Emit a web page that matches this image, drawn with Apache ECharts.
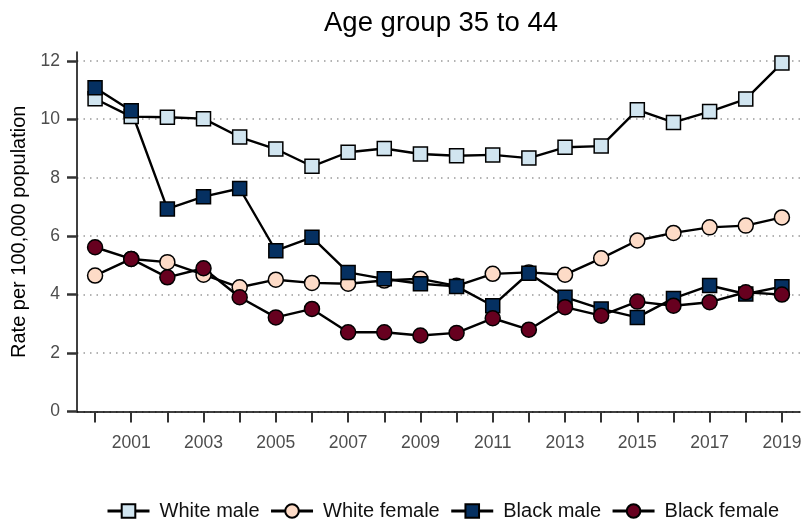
<!DOCTYPE html>
<html>
<head>
<meta charset="utf-8">
<script src="https://cdn.jsdelivr.net/npm/echarts@6/dist/echarts.min.js"></script>
<style>html,body{margin:0;padding:0;background:#fff}#c{width:803px;height:524px}</style>
</head>
<body>
<div id="c"></div>
<script>
const years = ['2000','2001','2002','2003','2004','2005','2006','2007','2008','2009','2010','2011','2012','2013','2014','2015','2016','2017','2018','2019'];
const whiteMale   = [10.70,10.09,10.07,10.02,9.39,8.98,8.39,8.87,9.00,8.81,8.75,8.78,8.67,9.04,9.08,10.32,9.89,10.26,10.69,11.92];
const whiteFemale = [4.65,5.22,5.11,4.68,4.25,4.51,4.40,4.37,4.48,4.54,4.30,4.71,4.76,4.68,5.24,5.85,6.11,6.30,6.36,6.64];
const blackMale   = [11.08,10.29,6.93,7.35,7.63,5.50,5.96,4.76,4.54,4.37,4.28,3.62,4.73,3.91,3.51,3.22,3.87,4.31,4.02,4.27];
const blackFemale = [5.62,5.22,4.59,4.90,3.91,3.22,3.51,2.71,2.71,2.60,2.69,3.19,2.80,3.57,3.28,3.76,3.62,3.74,4.08,4.00];
const yTicks = [0,2,4,6,8,10,12];
const seriesNames = ['White male','White female','Black male','Black female'];

const FONT = 'Liberation Sans, Arial, sans-serif';
function mk(name, data, symbol, color, size) {
  return {
    name, type: 'line', data, symbol, symbolSize: size,
    lineStyle: { color: '#000', width: 2.4 },
    itemStyle: { color: color, borderColor: '#000', borderWidth: 1.5 },
    emphasis: { disabled: true },
    animation: false
  };
}
const chart = echarts.init(document.getElementById('c'), null, { renderer: 'canvas' });
chart.setOption({
  backgroundColor: '#fff',
  animation: false,
  title: {
    text: 'Age group 35 to 44',
    left: 436, top: 4, textAlign: 'center',
    textStyle: { fontFamily: FONT, fontSize: 27.5, fontWeight: 'normal', color: '#000' }
  },
  grid: { left: 77, right: 3, top: 52, bottom: 112.5, outerBoundsMode: 'none' },
  legend: {
    data: seriesNames,
    left: 101, top: 496,
    itemWidth: 42, itemHeight: 17, itemGap: 10,
    lineStyle: { width: 3 },
    textStyle: { fontFamily: FONT, fontSize: 20, color: '#111', padding: [0, 0, 0, 5] }
  },
  xAxis: {
    type: 'category', data: years, boundaryGap: true,
    axisLine: { lineStyle: { color: '#000', width: 1.5 } },
    axisTick: { show: true, alignWithLabel: true, interval: 0, length: 11, lineStyle: { color: '#333', width: 2 } },
    axisLabel: { interval: function (i) { return i % 2 === 1; }, margin: 23, fontFamily: FONT, fontSize: 17.5, color: '#4d4d4d' },
    splitLine: { show: false }
  },
  yAxis: {
    type: 'value', min: 0, max: 12.3,
    name: 'Rate per 100,000 population', nameLocation: 'middle', nameGap: 42,
    nameTextStyle: { fontFamily: FONT, fontSize: 20, color: '#000' },
    axisLine: { show: true, lineStyle: { color: '#000', width: 1.5 } },
    axisTick: { show: true, length: 10, customValues: yTicks, lineStyle: { color: '#333', width: 2.5 } },
    axisLabel: { customValues: yTicks, margin: 17, fontFamily: FONT, fontSize: 17.5, color: '#4d4d4d' },
    splitLine: { show: true, lineStyle: { color: '#9a9a9a', width: 1.5, type: [1.5, 5] } }
  },
  series: [
    mk('White male', whiteMale, 'rect', '#d1e5f0', 14),
    mk('White female', whiteFemale, 'circle', '#fddbc7', 15),
    mk('Black male', blackMale, 'rect', '#053061', 14),
    mk('Black female', blackFemale, 'circle', '#67001f', 15)
  ]
});
</script>
</body>
</html>
